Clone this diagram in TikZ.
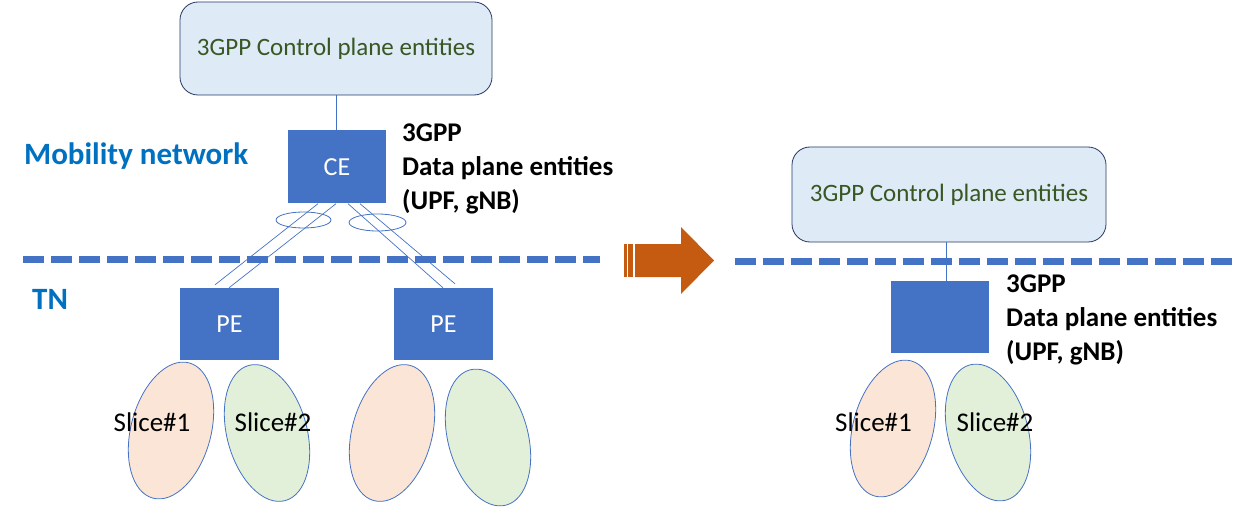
\documentclass[tikz,border=0pt]{standalone}
\usepackage{fontspec}
\setmainfont{Carlito}
\usetikzlibrary{shapes.geometric}
\definecolor{tnblue}{RGB}{68,114,196}
\definecolor{cpfill}{RGB}{222,235,247}
\definecolor{cpline}{RGB}{40,55,100}
\definecolor{cptext}{RGB}{56,87,35}
\definecolor{labblue}{RGB}{0,112,192}
\definecolor{slicea}{RGB}{251,229,214}
\definecolor{sliceb}{RGB}{226,240,217}
\definecolor{arrowor}{RGB}{197,90,17}

\begin{document}
\begin{tikzpicture}[x=1pt,y=-1pt,
    cpbox/.style={draw=cpline,fill=cpfill,rounded corners=18pt,line width=0.8pt,
        minimum width=312pt,minimum height=93pt,text=cptext,font=\fontsize{25}{30}\selectfont},
    entbox/.style={fill=tnblue,text=white,minimum width=98pt,minimum height=73pt,
        font=\fontsize{26}{30}\selectfont},
    slice/.style={ellipse,draw=tnblue,line width=0.8pt,minimum width=140pt,minimum height=80pt,inner sep=0pt},
    lag/.style={ellipse,draw=tnblue,line width=0.8pt,minimum width=55pt,minimum height=16pt,inner sep=0pt},
    link/.style={draw=tnblue,line width=0.7pt},
    bound/.style={draw=tnblue,line width=7pt,dash pattern=on 21pt off 7pt},
    slab/.style={font=\fontsize{27}{32}\selectfont,anchor=base,inner sep=0pt},
    dplab/.style={font=\bfseries\fontsize{27}{34}\selectfont,align=left,anchor=north west,inner sep=0pt},
    netlab/.style={font=\bfseries\fontsize{31}{36}\selectfont,text=labblue,anchor=base west,inner sep=0pt}]
    \useasboundingbox (0,0) rectangle (1235,508);

    \draw[bound] (23,259) -- (600,259);
    \draw[bound] (735,261) -- (1232,261);

    \node[netlab] (mob) at (24,165) {Mobility network};
    \node[netlab] (tn) at (32,309) {TN};

    \node[cpbox] (cpl) at (336,48.5) {3GPP Control plane entities};
    \node[entbox] (ce) at (337,167) {CE};
    \node[entbox,minimum width=99pt,minimum height=72pt] (pea) at (229.5,324) {PE};
    \node[entbox,minimum width=99pt,minimum height=72pt] (peb) at (443.5,324) {PE};
    \node[dplab] (dpla) at (402,124) {3GPP\\Data plane entities\\(UPF, gNB)};

    \draw[link] (cpl.south) -- (cpl.south |- ce.north);
    \draw[link] ([xshift=-19pt]ce.south) -- ([xshift=-14.5pt,yshift=3pt]pea.north);
    \draw[link] ([xshift=-1pt]ce.south) -- ([xshift=-0.5pt]pea.north);
    \draw[link] ([xshift=11pt]ce.south) -- ([xshift=-0.5pt]peb.north);
    \draw[link] ([xshift=23pt]ce.south) -- ([xshift=11.5pt,yshift=4pt]peb.north);
    \node[lag] (laga) at (303.5,220) {};
    \node[lag,minimum width=57pt,minimum height=17pt] (lagb) at (377.5,222.5) {};

    \fill[arrowor] (624,244) rectangle (627,277);
    \fill[arrowor] (628,244) rectangle (633,277);
    \fill[arrowor] (635,244) -- (681,244) -- (681,227) -- (714,260.5) -- (681,294)
        -- (681,277) -- (635,277) -- cycle;

    \node[cpbox,minimum width=314pt,minimum height=95pt] (cpr) at (949,194.5) {3GPP Control plane entities};
    \node[entbox,minimum height=72pt] (dpr) at (940,317) {};
    \node[dplab] (dplb) at (1006,275) {3GPP\\Data plane entities\\(UPF, gNB)};
    \draw[link] ([xshift=-3pt]cpr.south) -- ([xshift=6pt]dpr.north);

    \foreach \n/\cx/\cy/\rot/\col in {sa1/171/430.5/75/slicea, sa2/267/433/105/sliceb,
        sb1/392/433/75/slicea, sb2/488/437.5/105/sliceb,
        sc1/893/428.5/75/slicea, sc2/988/432.5/105/sliceb}
        \node[slice,fill=\col,rotate=\rot] (\n) at (\cx,\cy) {};

    \foreach \n/\cx/\lab in {la1/152/1, la2/273/2, lc1/873.5/1, lc2/995/2}
        \node[slab] (\n) at (\cx,431) {Slice\#\lab};
\end{tikzpicture}
\end{document}
